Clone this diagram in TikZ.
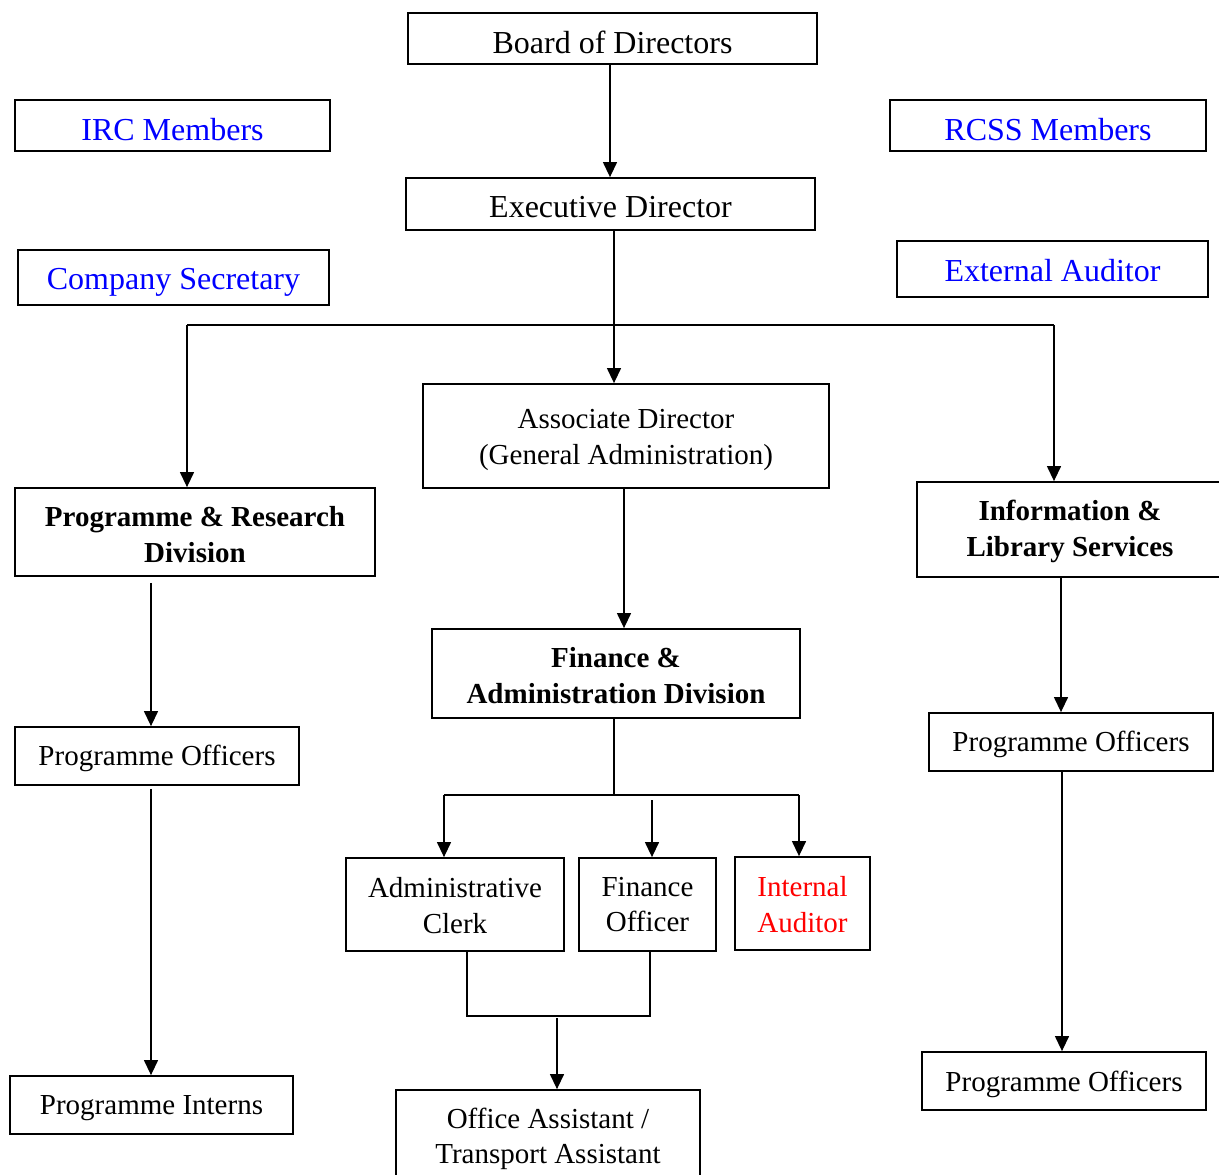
\documentclass[tikz,border=0pt]{standalone}
\usepackage{fontspec}
\setmainfont{Liberation Serif}
\usetikzlibrary{arrows.meta}
\definecolor{pureblue}{RGB}{0,0,255}
\definecolor{purered}{RGB}{255,0,0}
\tikzset{
  frame/.style={draw=black, line width=1.8pt, inner sep=0pt},
  txt/.style={align=center, inner sep=0pt, font=\fontsize{29}{35.5}\selectfont},
  bigtxt/.style={txt, font=\fontsize{32}{38}\selectfont},
  bluetxt/.style={bigtxt, text=pureblue},
  boldtxt/.style={txt, font=\fontsize{29}{36}\selectfont\bfseries},
  redtxt/.style={txt, text=purered},
  conn/.style={draw=black, line width=1.3pt},
  arr/.style={conn, -{Triangle[width=14pt,length=15pt]}}
}
\begin{document}
\begin{tikzpicture}[x=1pt,y=-1pt]
\useasboundingbox (0,0) rectangle (1219,1175);
\clip (0,0) rectangle (1219,1175);
\fill[white] (0,0) rectangle (1219,1175);

% boxes
\node[frame, minimum width=409pt, minimum height=51pt] (board) at (612.5,38.5) {};
\node[frame, minimum width=315pt, minimum height=51pt] (irc) at (172.5,125.5) {};
\node[frame, minimum width=316pt, minimum height=51pt] (rcss) at (1048,125.5) {};
\node[frame, minimum width=409pt, minimum height=52pt] (exec) at (610.5,204) {};
\node[frame, minimum width=311pt, minimum height=55pt] (csec) at (173.5,277.5) {};
\node[frame, minimum width=311pt, minimum height=56pt] (extaud) at (1052.5,269) {};
\node[frame, minimum width=406pt, minimum height=104pt] (assoc) at (626,436) {};
\node[frame, minimum width=360pt, minimum height=88pt] (prd) at (195,532) {};
\node[frame, minimum width=308pt, minimum height=95pt] (ils) at (1071,529.5) {};
\node[frame, minimum width=368pt, minimum height=89pt] (fad) at (616,673.5) {};
\node[frame, minimum width=284pt, minimum height=58pt] (po1) at (157,756) {};
\node[frame, minimum width=284pt, minimum height=58pt] (po2) at (1071,742) {};
\node[frame, minimum width=218pt, minimum height=93pt] (clerk) at (455,904.5) {};
\node[frame, minimum width=137pt, minimum height=93pt] (fo) at (647.5,904.5) {};
\node[frame, minimum width=135pt, minimum height=93pt] (ia) at (802.5,903.5) {};
\node[frame, minimum width=283pt, minimum height=58pt] (interns) at (151.5,1105) {};
\node[frame, minimum width=304pt, minimum height=92pt] (oa) at (548,1136) {};
\node[frame, minimum width=284pt, minimum height=58pt] (po3) at (1064,1081) {};

% texts
\node[bigtxt] (boardT) at ([yshift=-4pt]board.center) {Board of Directors};
\node[bluetxt] (ircT) at ([yshift=-4pt]irc.center) {IRC Members};
\node[bluetxt] (rcssT) at ([yshift=-4pt]rcss.center) {RCSS Members};
\node[bigtxt] (execT) at ([yshift=-3pt]exec.center) {Executive Director};
\node[bluetxt] (csecT) at ([yshift=-5pt]csec.center) {Company Secretary};
\node[bluetxt] (extaudT) at ([yshift=-2pt]extaud.center) {External Auditor};
\node[txt] (assocT) at ([yshift=-4pt]assoc.center) {Associate Director\\(General Administration)};
\node[boldtxt] (prdT) at ([yshift=-3pt]prd.center) {Programme \& Research\\Division};
\node[boldtxt] (ilsT) at ([xshift=-1pt,yshift=-2pt]ils.center) {Information \&\\Library Services};
\node[boldtxt] (fadT) at ([yshift=-2pt]fad.center) {Finance \&\\Administration Division};
\node[txt] (po1T) at ([yshift=-2pt]po1.center) {Programme Officers};
\node[txt] (po2T) at ([yshift=-2pt]po2.center) {Programme Officers};
\node[txt] (clerkT) at ([yshift=-1pt]clerk.center) {Administrative\\Clerk};
\node[txt] (foT) at (fo.center) {Finance\\Officer};
\node[redtxt] (iaT) at ([yshift=-1pt]ia.center) {Internal\\Auditor};
\node[txt] (internsT) at ([yshift=-3pt]interns.center) {Programme Interns};
\node[txt] (oaT) at ([yshift=-3pt]oa.center) {Office Assistant /\\Transport Assistant};
\node[txt] (po3T) at ([yshift=-3pt]po3.center) {Programme Officers};

% column coordinates
\coordinate (cBoard) at (610,0);
\coordinate (jE) at (614,325);
\coordinate (jL) at (187,325);
\coordinate (jR) at (1054,325);
\coordinate (cAssoc) at (624,0);
\coordinate (cLeft) at (151,0);
\coordinate (cRight) at (1061,0);
\coordinate (cRight2) at (1062,0);
\coordinate (jF) at (614,795);
\coordinate (jFL) at (444,795);
\coordinate (jFR) at (799,795);
\coordinate (jFO) at (652,800);
\coordinate (jCL) at (467,1016);
\coordinate (jCR) at (650,1016);
\coordinate (jOA) at (557,1016);

% connectors
\draw[arr] (board.south -| cBoard) -- (exec.north -| cBoard);
\draw[conn] (exec.south -| jE) -- (jE);
\draw[arr] (jE) -- (assoc.north -| jE);
\draw[conn] (jL) -- (jR);
\draw[arr] (jL) -- (prd.north -| jL);
\draw[arr] (jR) -- (ils.north -| jR);
\draw[arr] (assoc.south -| cAssoc) -- (fad.north -| cAssoc);
\draw[arr, shorten <=6pt] (prd.south -| cLeft) -- (po1.north -| cLeft);
\draw[arr, shorten <=3pt] (po1.south -| cLeft) -- (interns.north -| cLeft);
\draw[arr] (ils.south -| cRight) -- (po2.north -| cRight);
\draw[arr] (po2.south -| cRight2) -- (po3.north -| cRight2);
\draw[conn] (fad.south -| jF) -- (jF);
\draw[conn] (jFL) -- (jFR);
\draw[arr] (jFL) -- (clerk.north -| jFL);
\draw[arr] (jFR) -- (ia.north -| jFR);
\draw[arr] (jFO) -- (fo.north -| jFO);
\draw[conn] (clerk.south -| jCL) -- (jCL) -- (jCR) -- (fo.south -| jCR);
\draw[arr, shorten <=2pt] (jOA) -- (oa.north -| jOA);
\end{tikzpicture}
\end{document}
